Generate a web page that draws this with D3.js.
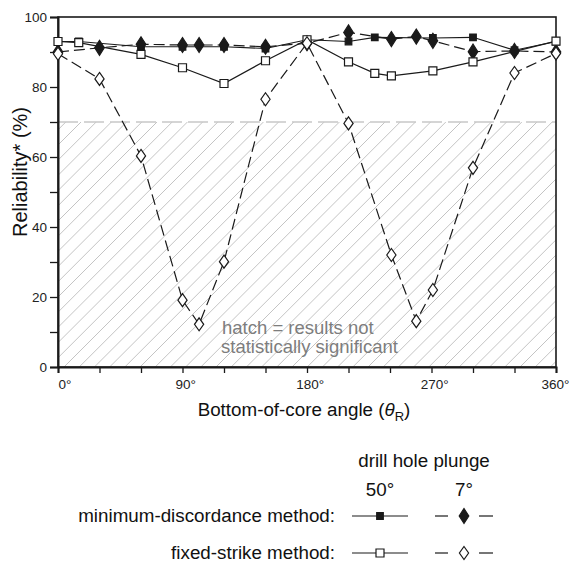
<!DOCTYPE html>
<html><head><meta charset="utf-8">
<script src="https://cdn.jsdelivr.net/npm/d3@7/dist/d3.min.js"></script>
<style>body{margin:0;background:#fff;} svg{display:block;font-family:"Liberation Sans",Arial,Helvetica,sans-serif;}</style>
</head><body><svg id="c" width="570" height="563"></svg>
<script>
// ---- data ----
const xTicks = [0, 30, 60, 90, 120, 150, 180, 210, 240, 270, 300, 330, 360];
const xTickLabels = ["0°", "", "", "90°", "", "", "180°", "", "", "270°", "", "", "360°"];
const yTicks = [0, 10, 20, 30, 40, 50, 60, 70, 80, 90, 100];
const yTickLabels = ["0", "", "20", "", "40", "", "60", "", "80", "", "100"];
const significanceLimit = 70;

// minimum-discordance method, 50° plunge (small filled squares, solid)
const md50Angles = [0, 15, 60, 90, 120, 150, 180, 210, 229, 271, 300, 330, 360];
const md50Values = [93, 93, 91.5, 91.5, 91.5, 91, 93.5, 93, 94.2, 94, 94.2, 90.5, 93];
// minimum-discordance method, 7° plunge (filled diamonds, dashed)
const md7Angles = [0, 30, 60, 90, 102, 120, 150, 180, 210, 241, 259, 271, 300, 330, 360];
const md7Values = [90, 91.2, 92.2, 92, 92, 92, 91.5, 92.5, 95.6, 93.7, 94.4, 93.2, 90.1, 90.3, 90];
// fixed-strike method, 50° plunge (open squares, solid)
const fs50Angles = [0, 15, 60, 90, 120, 150, 180, 210, 229, 241, 271, 300, 360];
const fs50Values = [93, 92.7, 89.3, 85.5, 81, 87.5, 93.5, 87.2, 83.9, 83.2, 84.6, 87.2, 93.1];
// fixed-strike method, 7° plunge (open diamonds, dashed)
const fs7Angles = [0, 30, 60, 90, 102, 120, 150, 180, 210, 241, 259, 271, 300, 330, 360];
const fs7Values = [89.5, 82.3, 60.3, 19.1, 12.2, 30.1, 76.5, 92.5, 69.6, 32, 13.1, 22, 56.9, 84, 89.6];

const legendHeader = "drill hole plunge";
const legendPlunges = ["50°", "7°"];
const legendMethods = ["minimum-discordance method:", "fixed-strike method:"];

// ---- drawing ----
const svg = d3.select("#c");
const L = 58, R = 556, T = 17, B = 367;
const x = d3.scaleLinear().domain([0, 360]).range([L, R]);
const y = d3.scaleLinear().domain([0, 100]).range([B, T]);
const ink = "#1a1a1a";

// hatch region (not significant)
const defs = svg.append("defs");
defs.append("clipPath").attr("id", "hclip").append("rect")
  .attr("x", x(0)).attr("y", y(significanceLimit))
  .attr("width", x(360) - x(0)).attr("height", y(0) - y(significanceLimit));
const hg = svg.append("g").attr("clip-path", "url(#hclip)");
const H = y(0) - y(significanceLimit);
const step = 15.2;
for (let k = -Math.ceil(H / step) - 1; k * step < (R - L) + 2; k++) {
  const x0 = L + k * step + 4;
  hg.append("line").attr("x1", x0).attr("y1", y(0) + 2).attr("x2", x0 + H + 4).attr("y2", y(significanceLimit) - 2)
    .attr("stroke", "#c4c4c4").attr("stroke-width", 1);
}
svg.append("line").attr("x1", x(0)).attr("x2", x(360))
  .attr("y1", y(significanceLimit)).attr("y2", y(significanceLimit))
  .attr("stroke", "#c8c8c8").attr("stroke-width", 1.6).attr("stroke-dasharray", "20,6");

// hatch note
const note = svg.append("text").attr("fill", "#7d7d7d").attr("font-size", 18.5);
note.append("tspan").attr("x", 222).attr("y", 334).text("hatch = results not");
note.append("tspan").attr("x", 221).attr("y", 353).text("statistically significant");

// frame
svg.append("rect").attr("x", L).attr("y", T).attr("width", R - L).attr("height", B - T)
  .attr("fill", "none").attr("stroke", ink).attr("stroke-width", 1.6);

// axes
const yAxis = svg.append("g").attr("transform", `translate(${L},0)`)
  .call(d3.axisLeft(y).tickValues(yTicks).tickSize(8).tickPadding(3)
    .tickFormat((d, i) => yTickLabels[i]));
const xAxis = svg.append("g").attr("transform", `translate(0,${B})`)
  .call(d3.axisBottom(x).tickValues(xTicks).tickSize(6).tickPadding(6)
    .tickFormat((d, i) => xTickLabels[i]));
[yAxis, xAxis].forEach(g => {
  g.select(".domain").attr("stroke", ink).attr("stroke-width", 2);
  g.selectAll(".tick line").attr("stroke", ink).attr("stroke-width", 1.3);
  g.selectAll(".tick text").attr("fill", "#222").attr("font-size", 13.5)
    .attr("font-family", "Liberation Sans, Arial, sans-serif");
});
xAxis.selectAll(".tick text").attr("dx", "0.2em");
xAxis.selectAll(".tick text").filter((d) => d === 0).attr("text-anchor", "start").attr("dx", 0);
xAxis.selectAll(".tick text").filter((d) => d === 360).attr("text-anchor", "end").attr("dx", 0)
  .attr("x", 569 - x(360));

// axis titles
const xt = svg.append("text").attr("x", 304).attr("y", 416).attr("text-anchor", "middle")
  .attr("font-size", 18.8).attr("fill", "#111");
xt.append("tspan").text("Bottom-of-core angle (");
xt.append("tspan").attr("font-style", "italic").text("θ");
xt.append("tspan").attr("font-size", 13).attr("dy", 5).text("R");
xt.append("tspan").attr("dy", -5).text(")");
svg.append("text").attr("transform", "translate(27,172) rotate(-90)").attr("text-anchor", "middle")
  .attr("font-size", 20).attr("fill", "#111").text("Reliability* (%)");

// series
const series = [
  {a: md50Angles, v: md50Values, dash: null, shape: "sq", fill: ink, hw: 3.3, hh: 3.3},
  {a: md7Angles, v: md7Values, dash: "11,5", shape: "dia", fill: ink, hw: 4.8, hh: 7.5},
  {a: fs50Angles, v: fs50Values, dash: null, shape: "sq", fill: "#fff", hw: 4, hh: 4},
  {a: fs7Angles, v: fs7Values, dash: "11,5", shape: "dia", fill: "#fff", hw: 4.6, hh: 6.5}
];
const line = d3.line().x(d => x(d[0])).y(d => y(d[1]));
const shapePath = (s) => s.shape === "sq"
  ? `M${-s.hw},${-s.hh}H${s.hw}V${s.hh}H${-s.hw}Z`
  : `M0,${-s.hh}L${s.hw},0L0,${s.hh}L${-s.hw},0Z`;
series.forEach(s => {
  svg.append("path").datum(d3.zip(s.a, s.v)).attr("d", line)
    .attr("fill", "none").attr("stroke", ink).attr("stroke-width", 1.2)
    .attr("stroke-dasharray", s.dash);
});
series.forEach(s => {
  svg.append("g").selectAll("path").data(d3.zip(s.a, s.v)).join("path")
    .attr("transform", d => `translate(${x(d[0])},${y(d[1])})`)
    .attr("d", shapePath(s)).attr("fill", s.fill).attr("stroke", ink).attr("stroke-width", 1.2);
});

// legend
svg.append("text").attr("x", 424).attr("y", 467).attr("text-anchor", "middle")
  .attr("font-size", 18.8).attr("fill", "#111").text(legendHeader);
const colX = [380, 464];
legendPlunges.forEach((t, i) => svg.append("text").attr("x", colX[i]).attr("y", 496)
  .attr("text-anchor", "middle").attr("font-size", 18.8).attr("fill", "#111").text(t));
const rowY = [516, 553];
legendMethods.forEach((t, i) => svg.append("text").attr("x", 335).attr("y", rowY[i] + 6)
  .attr("text-anchor", "end").attr("font-size", 18.8).attr("fill", "#111").text(t));
const legendItems = [
  {s: series[0], r: 0, c: 0}, {s: series[1], r: 0, c: 1},
  {s: series[2], r: 1, c: 0}, {s: series[3], r: 1, c: 1}
];
legendItems.forEach(it => {
  const cx = colX[it.c], cy = rowY[it.r];
  if (it.s.dash) {
    [[-29, -16], [15, 29]].forEach(([a, b]) => svg.append("line")
      .attr("x1", cx + a).attr("x2", cx + b).attr("y1", cy).attr("y2", cy)
      .attr("stroke", ink).attr("stroke-width", 1.2));
  } else {
    svg.append("line").attr("x1", cx - 28).attr("x2", cx + 28).attr("y1", cy).attr("y2", cy)
      .attr("stroke", ink).attr("stroke-width", 1.2);
  }
  svg.append("path").attr("transform", `translate(${cx},${cy})`).attr("d", shapePath(it.s))
    .attr("fill", it.s.fill).attr("stroke", ink).attr("stroke-width", 1.2);
});
</script></body></html>
